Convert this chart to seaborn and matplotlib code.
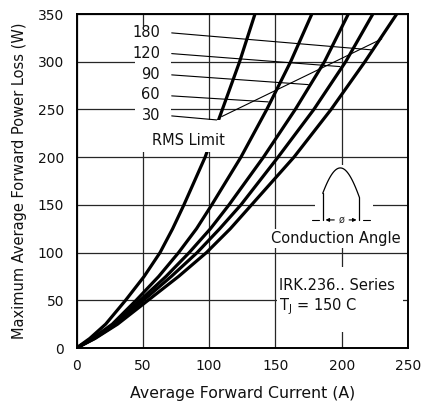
import numpy as np
import pandas as pd
import matplotlib
matplotlib.use("Agg")
import matplotlib.pyplot as plt
import seaborn as sns
from matplotlib.patches import Rectangle

# ---- data (current in A at given power loss in W) ----
power_w = [0, 10, 25, 50, 75, 100, 125, 150, 200, 250, 300, 350]
current_30 = [0, 10, 22, 37, 51, 63, 72.5, 81, 97, 110, 123, 134.6]
current_60 = [0, 12, 27, 45, 62, 77, 90.5, 102, 124, 143.5, 161.5, 177.5]
current_90 = [0, 13, 29, 48, 67.5, 85, 101, 115, 141, 165, 187, 205]
current_120 = [0, 13.5, 30, 50.5, 71.5, 91, 108, 124, 152, 179, 203, 223.5]
current_180 = [0, 14, 31, 54, 77, 98, 116, 132, 164, 192, 217.5, 241.5]
angles = ["30", "60", "90", "120", "180"]

x_ticks = [0, 50, 100, 150, 200, 250]
y_ticks = [0, 50, 100, 150, 200, 250, 300, 350]

# callout label positions (A, W) and leader-line end points on the curves
label_text = ["180", "120", "90", "60", "30"]
label_y = [331, 309, 287, 266, 244]
leader_start_y = [330.2, 308.5, 286.2, 264.2, 243.2]
leader_end_x = [222.6, 198.7, 174.8, 144.6, 105.7]
leader_end_y = [312.4, 294.9, 276.0, 257.9, 239.0]
rms_x = [109.5, 230.2]
rms_y = [242.5, 323.9]

sns.set_style("white")
plt.rcParams['font.family'] = ['DejaVu Sans']

rows = []
for ang, cur in zip(angles, [current_30, current_60, current_90, current_120, current_180]):
    for c, p in zip(cur, power_w):
        rows.append({"angle": ang, "current": c, "power": p})
df = pd.DataFrame(rows)

fig = plt.figure(figsize=(4.23, 4.12), dpi=100)
ax = fig.add_axes([76.5 / 423, 1 - 348 / 412, (408 - 76.5) / 423, (348 - 14) / 412])

sns.lineplot(data=df, x="current", y="power", hue="angle", palette=["black"] * 5,
             estimator=None, legend=False, linewidth=2.3, ax=ax, zorder=3)
for ln in ax.get_lines():
    ln.set_solid_joinstyle("round")
    ln.set_solid_capstyle("round")

ax.set_xlim(0, 250)
ax.set_ylim(0, 350)
ax.set_xticks(x_ticks)
ax.set_yticks(y_ticks)
ax.grid(True, color="0.15", linewidth=0.9)
ax.set_axisbelow(True)
for s in ax.spines.values():
    s.set_color("black")
    s.set_linewidth(1.4)
ax.tick_params(length=0, labelsize=10, colors="#111111")
ax.tick_params(axis="y", pad=9)
ax.tick_params(axis="x", pad=8)
ax.set_xlabel("Average Forward Current (A)", fontsize=11.3, labelpad=9, color="#111111")
ax.set_ylabel("Maximum Average Forward Power Loss (W)", fontsize=10.5, labelpad=8, color="#111111")

# white backgrounds behind annotation groups
ax.add_patch(Rectangle((44.1, 205.5), 71.3 - 44.1, 337.5 - 205.5, facecolor="white", edgecolor="none", zorder=2.5))
ax.add_patch(Rectangle((44.1, 205.5), 112.7 - 44.1, 239 - 205.5, facecolor="white", edgecolor="none", zorder=4))
ax.add_patch(Rectangle((179.9, 123.7), 223.6 - 179.9, 191.8 - 123.7, facecolor="white", edgecolor="none", zorder=2.5))
ax.add_patch(Rectangle((151.2, 16.8), 246.2 - 151.2, 84.9 - 16.8, facecolor="white", edgecolor="none", zorder=2.5))

# angle labels and leader lines
for t, ly, sy, ex, ey in zip(label_text, label_y, leader_start_y, leader_end_x, leader_end_y):
    ax.text(63, ly, t, ha="right", va="center", fontsize=10.5, zorder=6, color="#111111")
    ax.plot([71.8, ex], [sy, ey], color="black", linewidth=0.8, zorder=5)
ax.plot(rms_x, rms_y, color="black", linewidth=0.8, zorder=5)
ax.text(57, 217, "RMS Limit", ha="left", va="center", fontsize=10.5, zorder=6, color="#111111")

# conduction angle icon
theta = np.linspace(0.537, 2.69, 60)
xs = 185.7 + (theta - 0.537) / (2.69 - 0.537) * (213.3 - 185.7)
ys = 134.2 + 54.5 * np.sin(theta)
ax.plot(xs, ys, color="black", linewidth=0.9, zorder=5)
ax.plot([185.7, 185.7], [134.2, 162.1], color="black", linewidth=0.9, zorder=5)
ax.plot([213.3, 213.3], [134.2, 158.0], color="black", linewidth=0.9, zorder=5)
ax.plot([177.5, 183.0], [134.2, 134.2], color="black", linewidth=0.8, zorder=5)
ax.plot([216.0, 221.5], [134.2, 134.2], color="black", linewidth=0.8, zorder=5)
ax.annotate("", xy=(185.7, 134.2), xytext=(196.5, 134.2),
            arrowprops=dict(arrowstyle="-|>", color="black", lw=0.8, mutation_scale=5), zorder=5)
ax.annotate("", xy=(213.3, 134.2), xytext=(203.5, 134.2),
            arrowprops=dict(arrowstyle="-|>", color="black", lw=0.8, mutation_scale=5), zorder=5)
ax.text(200, 134.2, "ø", ha="center", va="center", fontsize=7, zorder=6)
ax.text(195.7, 114.3, "Conduction Angle", ha="center", va="center", fontsize=10.5, zorder=6,
        color="#111111", bbox=dict(facecolor="white", edgecolor="none", pad=1.5))

ax.text(152.5, 66, "IRK.236.. Series", ha="left", va="center", fontsize=10.5, zorder=6, color="#111111")
ax.text(152.5, 43, r"T$_\mathregular{J}$ = 150 C", ha="left", va="center", fontsize=10.5, zorder=6, color="#111111")

fig.savefig("out.png", dpi=100)
